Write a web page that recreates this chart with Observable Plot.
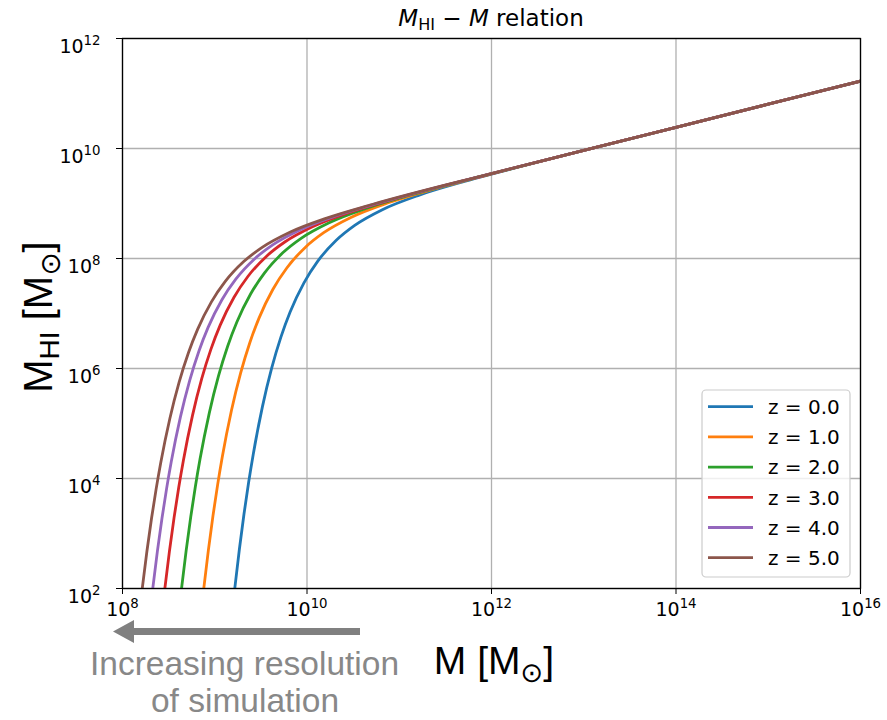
<!DOCTYPE html>
<html><head><meta charset="utf-8">
<script src="https://cdn.jsdelivr.net/npm/d3@7"></script>
<script src="https://cdn.jsdelivr.net/npm/@observablehq/plot@0.6"></script>
<style>body{margin:0;background:#fff} svg{display:block}</style>
</head><body><div id="chart"></div>
<script>
const seriesLabels = ["z = 0.0", "z = 1.0", "z = 2.0", "z = 3.0", "z = 4.0", "z = 5.0"];
const seriesColors = ["#1f77b4", "#ff7f0e", "#2ca02c", "#d62728", "#9467bd", "#8c564b"];
const xTickExps = [8, 10, 12, 14, 16];
const yTickExps = [2, 4, 6, 8, 10, 12];

// log10(M) and log10(M_HI)
const logM_z0   = [9.217, 9.267, 9.317, 9.367, 9.417, 9.517, 9.617, 9.717, 9.817, 9.967, 10.117, 10.317, 10.517, 10.817, 11.217, 11.717, 12, 13, 14, 15, 16];
const logMHI_z0 = [2.000, 2.714, 3.354, 3.926, 4.437, 5.307, 6.006, 6.570, 7.027, 7.558, 7.952, 8.332, 8.603, 8.888, 9.153, 9.406, 9.535, 9.965, 10.385, 10.805, 11.225];
const logM_z1   = [8.881, 8.931, 8.981, 9.031, 9.081, 9.181, 9.281, 9.381, 9.481, 9.631, 9.781, 9.981, 10.181, 10.481, 10.881, 11.381, 12, 13, 14, 15, 16];
const logMHI_z1 = [2.000, 2.699, 3.325, 3.884, 4.385, 5.236, 5.921, 6.474, 6.921, 7.441, 7.828, 8.202, 8.469, 8.750, 9.013, 9.265, 9.540, 9.965, 10.385, 10.805, 11.225];
const logM_z2   = [8.640, 8.690, 8.740, 8.790, 8.840, 8.940, 9.040, 9.140, 9.240, 9.390, 9.540, 9.740, 9.940, 10.240, 10.640, 11.140, 12, 13, 14, 15, 16];
const logMHI_z2 = [2.000, 2.688, 3.304, 3.855, 4.348, 5.185, 5.860, 6.404, 6.845, 7.358, 7.739, 8.108, 8.372, 8.651, 8.912, 9.164, 9.543, 9.965, 10.385, 10.805, 11.225];
const logM_z3   = [8.459, 8.509, 8.559, 8.609, 8.659, 8.759, 8.859, 8.959, 9.059, 9.209, 9.359, 9.559, 9.759, 10.059, 10.459, 10.959, 12, 13, 14, 15, 16];
const logMHI_z3 = [2.000, 2.680, 3.288, 3.832, 4.319, 5.148, 5.814, 6.352, 6.788, 7.296, 7.673, 8.038, 8.300, 8.577, 8.837, 9.088, 9.545, 9.965, 10.385, 10.805, 11.225];
const logM_z4   = [8.328, 8.378, 8.428, 8.478, 8.528, 8.628, 8.728, 8.828, 8.928, 9.078, 9.228, 9.428, 9.628, 9.928, 10.328, 10.828, 12, 13, 14, 15, 16];
const logMHI_z4 = [2.000, 2.674, 3.277, 3.816, 4.299, 5.120, 5.781, 6.315, 6.747, 7.251, 7.625, 7.988, 8.248, 8.524, 8.783, 9.034, 9.545, 9.965, 10.385, 10.805, 11.225];
const logM_z5   = [8.214, 8.264, 8.314, 8.364, 8.414, 8.514, 8.614, 8.714, 8.814, 8.964, 9.114, 9.314, 9.514, 9.814, 10.214, 10.714, 12, 13, 14, 15, 16];
const logMHI_z5 = [2.000, 2.668, 3.267, 3.802, 4.281, 5.096, 5.752, 6.282, 6.711, 7.211, 7.583, 7.944, 8.202, 8.477, 8.735, 8.986, 9.545, 9.965, 10.385, 10.805, 11.225];

const seriesLogM = [logM_z0, logM_z1, logM_z2, logM_z3, logM_z4, logM_z5];
const seriesLogMHI = [logMHI_z0, logMHI_z1, logMHI_z2, logMHI_z3, logMHI_z4, logMHI_z5];

const rows = [];
seriesLabels.forEach((lab, i) => {
  seriesLogM[i].forEach((lm, j) => rows.push({z: lab, M: 10 ** lm, MHI: 10 ** seriesLogMHI[i][j]}));
});

const xTicks = xTickExps.map(e => 10 ** e);
const yTicks = yTickExps.map(e => 10 ** e);
const fmt = d => "10^" + Math.round(Math.log10(d));

const chart = Plot.plot({
  width: 887, height: 720,
  marginLeft: 122, marginRight: 27, marginTop: 38, marginBottom: 132,
  style: {fontFamily: "DejaVu Sans", fontSize: "19px", color: "black", background: "white"},
  x: {type: "log", domain: [1e8, 1e16]},
  y: {type: "log", domain: [1e2, 1e12]},
  color: {domain: seriesLabels, range: seriesColors},
  marks: [
    Plot.gridX({ticks: xTicks, stroke: "#b0b0b0", strokeOpacity: 1, strokeWidth: 1.3}),
    Plot.gridY({ticks: yTicks, stroke: "#b0b0b0", strokeOpacity: 1, strokeWidth: 1.3}),
    Plot.line(rows, {x: "M", y: "MHI", z: "z", stroke: "z", strokeWidth: 2.8, curve: "monotone-x", clip: true}),
    Plot.frame({stroke: "black", strokeWidth: 1.3}),
    Plot.axisX({ticks: xTicks, tickFormat: fmt, tickSize: 6, tickPadding: 8, fontSize: 19, label: null, stroke: "black"}),
    Plot.axisY({ticks: yTicks, tickFormat: fmt, tickSize: 6, tickPadding: 11, fontSize: 19, label: null, stroke: "black"})
  ]
});
document.getElementById("chart").appendChild(chart);

const svg = d3.select(chart);
// superscript exponents in tick labels
svg.selectAll("text").each(function () {
  const m = /^10\^(\d+)$/.exec(this.textContent);
  if (m) {
    const el = d3.select(this);
    el.text("").style("font-size", "19px").style("font-family", "DejaVu Sans");
    el.append("tspan").text("10");
    el.append("tspan").attr("font-size", "0.7em").attr("dy", "-0.6em").text(m[1]);
  }
});
svg.selectAll('g[aria-label="y-axis tick label"] text').attr("dy", "0.45em").attr("dx", -5);

// title
const title = svg.append("text").attr("x", 491).attr("y", 26).attr("text-anchor", "middle")
  .attr("font-family", "DejaVu Sans").attr("font-size", 23).attr("fill", "black");
title.append("tspan").attr("font-style", "italic").text("M");
title.append("tspan").attr("font-size", "0.7em").attr("dy", 4).text("HI");
title.append("tspan").attr("dy", -4).text(" \u2212 ");
title.append("tspan").attr("font-style", "italic").text("M");
title.append("tspan").text(" relation");

// x label
const xl = svg.append("text").attr("x", 494).attr("y", 674).attr("text-anchor", "middle")
  .attr("font-family", "Liberation Sans, Arial, sans-serif").attr("font-size", 39).attr("fill", "black");
xl.append("tspan").text("M [M");
xl.append("tspan").attr("font-family", "DejaVu Sans").attr("font-size", "0.7em").attr("dy", 8).text("\u2299");
xl.append("tspan").attr("dy", -8).text("]");

// y label
const yl = svg.append("text").attr("transform", "translate(52,317) rotate(-90)").attr("text-anchor", "middle")
  .attr("font-family", "Liberation Sans, Arial, sans-serif").attr("font-size", 40).attr("fill", "black");
yl.append("tspan").text("M");
yl.append("tspan").attr("font-size", "0.7em").attr("dy", 7).text("HI");
yl.append("tspan").attr("dy", -7).text(" [M");
yl.append("tspan").attr("font-family", "DejaVu Sans").attr("font-size", "0.7em").attr("dy", 8).text("\u2299");
yl.append("tspan").attr("dy", -8).text("]");

// legend
const lg = svg.append("g").attr("text-anchor", "start");
lg.append("rect").attr("x", 702).attr("y", 390).attr("width", 148).attr("height", 187).attr("rx", 4)
  .attr("fill", "white").attr("fill-opacity", 0.8).attr("stroke", "#cccccc").attr("stroke-width", 1.2);
seriesLabels.forEach((lab, i) => {
  const yy = 406.7 + i * 30.2;
  lg.append("line").attr("x1", 708).attr("x2", 753).attr("y1", yy).attr("y2", yy)
    .attr("stroke", seriesColors[i]).attr("stroke-width", 2.8);
  lg.append("text").attr("x", 768).attr("y", yy).attr("dy", "0.36em").attr("text-anchor", "start")
    .attr("font-family", "DejaVu Sans").attr("font-size", 20).attr("fill", "black").text(lab);
});

// annotation arrow and text
const ay = 631.5;
svg.append("path")
  .attr("d", `M360,${ay - 3.5} L134,${ay - 3.5} L134,${ay - 11.5} L113,${ay} L134,${ay + 11.5} L134,${ay + 3.5} L360,${ay + 3.5} Z`)
  .attr("fill", "#808080");
svg.append("text").attr("x", 244.5).attr("y", 675).attr("text-anchor", "middle")
  .attr("font-family", "Liberation Sans, Arial, sans-serif").attr("font-size", 33.5).attr("fill", "#888888")
  .text("Increasing resolution");
svg.append("text").attr("x", 245).attr("y", 712).attr("text-anchor", "middle")
  .attr("font-family", "Liberation Sans, Arial, sans-serif").attr("font-size", 33.5).attr("fill", "#888888")
  .text("of simulation");
</script>
</body></html>
